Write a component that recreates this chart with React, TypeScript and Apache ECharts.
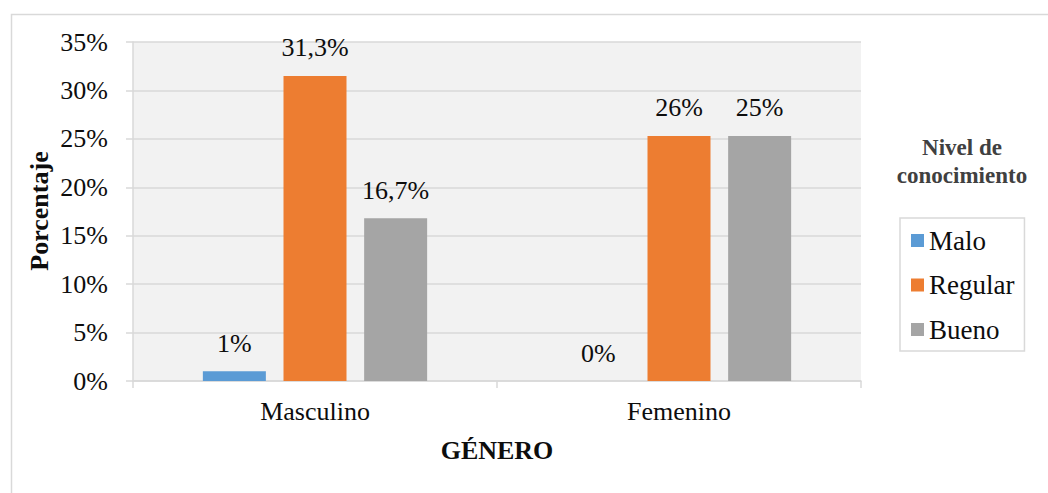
import React, { useEffect, useRef } from "react";
import * as echarts from "echarts";

const categories = ["Masculino", "Femenino"];
const seriesNames = ["Malo", "Regular", "Bueno"];
const maloValues = [1.0, 0];
const regularValues = [31.5, 25.3];
const buenoValues = [16.8, 25.3];
const maloLabels = ["1%", "0%"];
const regularLabels = ["31,3%", "26%"];
const buenoLabels = ["16,7%", "25%"];
const yTicks = [0, 5, 10, 15, 20, 25, 30, 35];

const colors = ["#5b9bd5", "#ed7d31", "#a5a5a5"];
const FONT = "Liberation Serif, Times New Roman, serif";

export default function App() {
  const ref = useRef<HTMLDivElement>(null);
  useEffect(() => {
    if (!ref.current) return;
    const chart = echarts.init(ref.current, null, { renderer: "svg" });
    const mk = (i: number, values: number[], labels: string[]) => ({
      name: seriesNames[i],
      type: "bar",
      data: values,
      barWidth: 63,
      barGap: "28%",
      itemStyle: { color: colors[i] },
      label: {
        show: true,
        position: "top",
        distance: 15,
        fontFamily: FONT,
        fontSize: 26,
        color: "#0d0d0d",
        formatter: (p: any) => labels[p.dataIndex],
      },
    });
    chart.setOption({
      animation: false,
      backgroundColor: "#ffffff",
      textStyle: { fontFamily: FONT },
      grid: {
        left: 133,
        right: 187,
        top: 42,
        bottom: 112,
        show: true,
        backgroundColor: "#f2f2f2",
        borderWidth: 0,
      },
      legend: {
        orient: "vertical",
        left: 900,
        top: 218,
        data: seriesNames,
        icon: "rect",
        itemWidth: 13,
        itemHeight: 13,
        itemGap: 17.5,
        itemTextGap: 7,
        padding: [9, 10, 8, 11],
        borderColor: "#d9d9d9",
        borderWidth: 1.5,
        textStyle: { fontFamily: FONT, fontSize: 27, lineHeight: 26, color: "#0d0d0d" },
      },
      xAxis: {
        type: "category",
        data: categories,
        axisLine: { lineStyle: { color: "#d9d9d9", width: 1.5 } },
        axisTick: { show: true, length: 7, lineStyle: { color: "#d9d9d9", width: 1.5 } },
        axisLabel: { fontFamily: FONT, fontSize: 26, color: "#0d0d0d", margin: 17 },
        name: "GÉNERO",
        nameLocation: "middle",
        nameGap: 56,
        nameTextStyle: { fontFamily: FONT, fontSize: 26, fontWeight: "bold", color: "#0d0d0d" },
      },
      yAxis: {
        type: "value",
        min: yTicks[0],
        max: yTicks[yTicks.length - 1],
        interval: 5,
        axisLine: { show: true, lineStyle: { color: "#d9d9d9", width: 1.5 } },
        axisTick: { show: true, length: 7, lineStyle: { color: "#d9d9d9", width: 1.5 } },
        splitLine: { lineStyle: { color: "#d9d9d9", width: 1.5 } },
        axisLabel: {
          fontFamily: FONT,
          fontSize: 26,
          color: "#0d0d0d",
          margin: 25,
          formatter: "{value}%",
        },
      },
      graphic: [
        {
          type: "rect",
          left: 9,
          top: 12,
          shape: { width: 1060, height: 500 },
          style: { fill: "none", stroke: "#d9d9d9", lineWidth: 1.5 },
          silent: true,
          z: -1,
        },
        {
          type: "text",
          x: 39,
          y: 211,
          rotation: Math.PI / 2,
          style: {
            text: "Porcentaje",
            fontFamily: FONT,
            fontSize: 26,
            fontWeight: "bold",
            fill: "#0d0d0d",
            align: "center",
            verticalAlign: "middle",
          },
        },
        {
          type: "text",
          x: 962,
          y: 161,
          style: {
            text: "Nivel de\nconocimiento",
            fontFamily: FONT,
            fontSize: 23,
            fontWeight: "bold",
            lineHeight: 28,
            fill: "#404040",
            align: "center",
            verticalAlign: "middle",
          },
        },
      ],
      series: [
        mk(0, maloValues, maloLabels),
        mk(1, regularValues, regularLabels),
        mk(2, buenoValues, buenoLabels),
      ],
    });
    return () => chart.dispose();
  }, []);
  return (
    <div
      ref={ref}
      style={{ position: "absolute", left: 0, top: 0, width: 1048, height: 493 }}
    />
  );
}
